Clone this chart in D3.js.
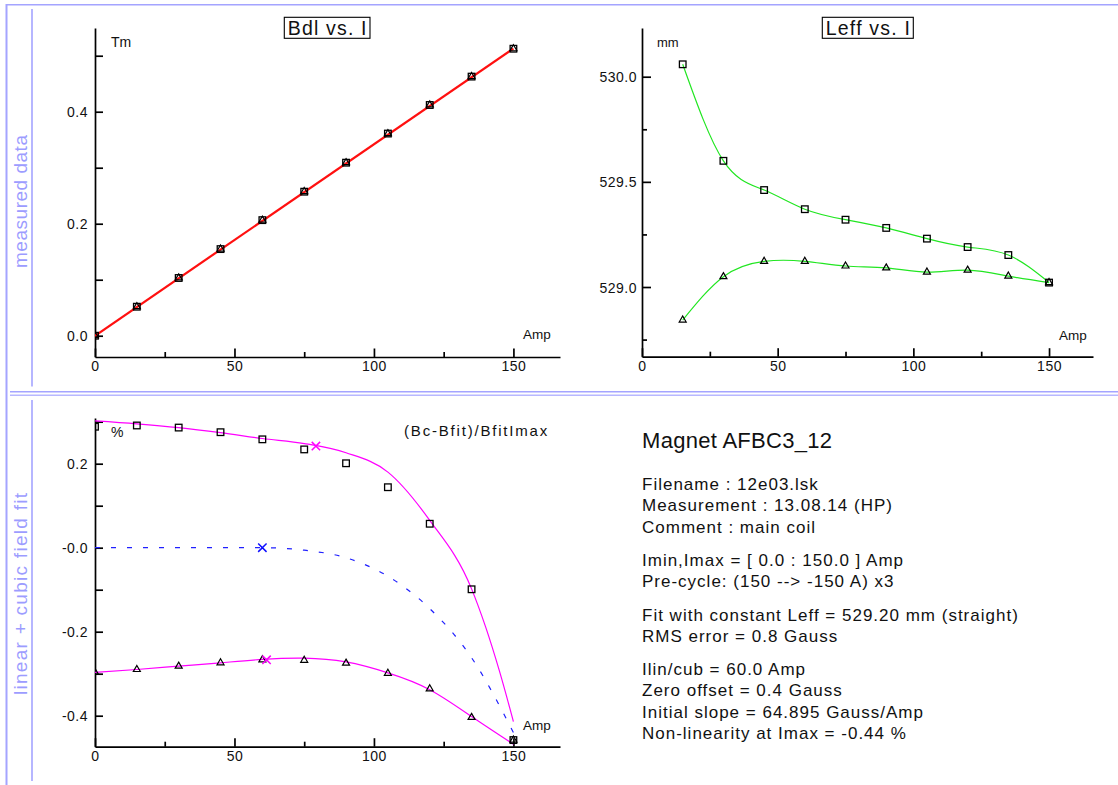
<!DOCTYPE html>
<html><head><meta charset="utf-8">
<script src="https://cdn.jsdelivr.net/npm/d3@7"></script>
<style>
html,body{margin:0;padding:0;background:#fff;}
svg{display:block;font-family:"Liberation Sans",Arial,sans-serif;}
</style></head><body>
<svg id="c" width="1118" height="785"></svg>
<script>
// ---------------- data ----------------
const current = [0,15,30,45,60,75,90,105,120,135,150];
const bdlSquares   = [0.0000,0.0518,0.1031,0.1547,0.2064,0.2572,0.3090,0.3610,0.4120,0.4627,0.5125];
const bdlTriangles = [0.0002,0.0519,0.1033,0.1548,0.2063,0.2574,0.3091,0.3608,0.4121,0.4628,0.5125];
const bdlFitCurrent = [0,150];
const bdlFit = [0.0000,0.5128];

const leffCurrent = [15,30,45,60,75,90,105,120,135,150];
const leffSquares   = [530.059,529.600,529.461,529.370,529.320,529.281,529.230,529.190,529.152,529.021];
const leffTriangles = [528.843,529.049,529.122,529.122,529.100,529.091,529.071,529.080,529.052,529.021];

const devSquares   = [0.288,0.291,0.286,0.275,0.258,0.234,0.201,0.144,0.057,-0.099,-0.458];
const devTriangles = [-0.297,-0.290,-0.282,-0.274,-0.267,-0.268,-0.275,-0.299,-0.336,-0.404,-0.458];
const fitUpperCurrent = [0,15,30,45,60,75,90,105,120,135,140,145,150];
const fitUpper = [0.302,0.295,0.286,0.274,0.260,0.248,0.226,0.180,0.065,-0.098,-0.188,-0.294,-0.414];
const fitLowerCurrent = [0,15,30,45,60,75,90,105,120,135,150];
const fitLower = [-0.297,-0.290,-0.282,-0.274,-0.266,-0.263,-0.272,-0.298,-0.338,-0.402,-0.468];
const fitMeanCurrent = [0,15,30,45,60,75,90,105,120,135,150];
const fitMean = [0,0,0,0,0,-0.006,-0.024,-0.068,-0.145,-0.262,-0.440];
const crossBlueCurrent = [60];
const crossBlueValue = [0];
const crossMagentaCurrent = [79.2,61.5];
const crossMagentaValue = [0.242,-0.267];

const xTicks = [0,50,100,150];
const xMinorTicks = [25,75,125];
const bdlTicks = [0,0.2,0.4];
const bdlMinorTicks = [0.1,0.3,0.5];
const leffTicks = [529.0,529.5,530.0];
const leffMinorTicks = [528.75,529.25,529.75];
const devTicks = [0.2,0,-0.2,-0.4];
const devTickLabels = ["0.2","-0.0","-0.2","-0.4"];
const devMinorTicks = [0.3,0.1,-0.1,-0.3];

const sideLabels = ["measured data","linear + cubic field fit"];
const titleTL = "Bdl vs. I", titleTR = "Leff vs. I", titleB = "(Bc-Bfit)/BfitImax";
const unitTL = "Tm", unitTR = "mm", unitB = "%", xUnit = "Amp";
const infoTitle = "Magnet AFBC3_12";
const infoGroups = [
  ["Filename : 12e03.lsk","Measurement : 13.08.14 (HP)","Comment : main coil"],
  ["Imin,Imax = [ 0.0 : 150.0 ] Amp","Pre-cycle: (150 --> -150 A) x3"],
  ["Fit with constant Leff = 529.20 mm (straight)","RMS error = 0.8 Gauss"],
  ["Ilin/cub = 60.0 Amp","Zero offset = 0.4 Gauss","Initial slope = 64.895 Gauss/Amp","Non-linearity at Imax = -0.44 %"]
];

// ---------------- drawing ----------------
const svg = d3.select('#c');
const frame = '#a4a4ff';

// frame lines
svg.append('line').attr('x1',6.5).attr('x2',6.5).attr('y1',4).attr('y2',785).attr('stroke',frame).attr('stroke-width',2);
svg.append('line').attr('x1',6).attr('x2',1118).attr('y1',4.8).attr('y2',4.8).attr('stroke',frame).attr('stroke-width',1.6);
svg.append('line').attr('x1',32).attr('x2',32).attr('y1',9).attr('y2',386.5).attr('stroke',frame).attr('stroke-width',1.6);
svg.append('line').attr('x1',32).attr('x2',32).attr('y1',400).attr('y2',781).attr('stroke',frame).attr('stroke-width',1.6);
svg.append('line').attr('x1',10).attr('x2',1118).attr('y1',391.8).attr('y2',391.8).attr('stroke',frame).attr('stroke-width',1.5);
svg.append('line').attr('x1',10).attr('x2',1118).attr('y1',395.3).attr('y2',395.3).attr('stroke','#b8b8ff').attr('stroke-width',1.5);

// side labels
[[sideLabels[0],201.5,133],[sideLabels[1],594,202]].forEach(([t,cy,len])=>{
  svg.append('text').attr('transform',`translate(27,${cy}) rotate(-90)`)
    .attr('text-anchor','middle').attr('font-size',19).attr('fill','#9c9cff')
    .attr('textLength',len).attr('lengthAdjust','spacing').text(t);
});

let clipId = 0;
function panel(cfg){
  const {x,y} = cfg;
  const x0 = x.range()[0], y0 = y.range()[0];
  const gm = svg.append('g').attr('transform',`translate(0,${y0})`)
    .call(d3.axisBottom(x).tickValues(xMinorTicks).tickSizeInner(-5).tickSizeOuter(0).tickFormat(''));
  gm.select('.domain').remove();
  const gx = svg.append('g').attr('transform',`translate(0,${y0})`)
    .call(d3.axisBottom(x).tickValues(xTicks).tickSizeInner(-8.5).tickSizeOuter(0).tickPadding(4).tickFormat(d3.format('d')));
  const gym = svg.append('g').attr('transform',`translate(${x0},0)`)
    .call(d3.axisLeft(y).tickValues(cfg.yMinor).tickSizeInner(-cfg.yMinorLen).tickSizeOuter(0).tickFormat(''));
  gym.select('.domain').remove();
  const gy = svg.append('g').attr('transform',`translate(${x0},0)`)
    .call(d3.axisLeft(y).tickValues(cfg.yTicks).tickSizeInner(-cfg.yMajorLen).tickSizeOuter(0).tickPadding(cfg.yPad).tickFormat(cfg.yFormat));
  [gm,gx,gym,gy].forEach(g=>{
    g.selectAll('path,line').attr('stroke','#000').attr('stroke-width',1.7);
    g.selectAll('text').attr('font-size',14).attr('font-family','"Liberation Sans",Arial,sans-serif')
      .attr('letter-spacing',0.5).attr('fill','#111');
  });
  gy.selectAll('text').attr('dy','0.36em');
  const id = 'clip'+(clipId++);
  svg.append('clipPath').attr('id',id).append('rect')
    .attr('x',x0).attr('y',y.range()[1]).attr('width',x.range()[1]-x0).attr('height',y0-y.range()[1]);
  return svg.append('g').attr('clip-path',`url(#${id})`);
}

function squares(g,x,y,xs,vs){
  g.selectAll(null).data(xs).enter().append('rect')
    .attr('x',(d,i)=>x(d)-3.3).attr('y',(d,i)=>y(vs[i])-3.3).attr('width',6.6).attr('height',6.6)
    .attr('fill','none').attr('stroke','#000').attr('stroke-width',1.3);
}
function triangles(g,x,y,xs,vs){
  const s=7, h=s*Math.sqrt(3)/2;
  g.selectAll(null).data(xs).enter().append('path')
    .attr('d',(d,i)=>{const cx=x(d), cy=y(vs[i]);
      return `M${cx},${cy-h*2/3}L${cx+s/2},${cy+h/3}L${cx-s/2},${cy+h/3}Z`;})
    .attr('fill','none').attr('stroke','#000').attr('stroke-width',1.2);
}
function crosses(g,x,y,xs,vs,color){
  const r=4.2;
  g.selectAll(null).data(xs).enter().append('path')
    .attr('d',(d,i)=>{const cx=x(d), cy=y(vs[i]);
      return `M${cx-r},${cy-r}L${cx+r},${cy+r}M${cx-r},${cy+r}L${cx+r},${cy-r}`;})
    .attr('stroke',color).attr('stroke-width',1.5).attr('fill','none');
}
function curve(g,x,y,xs,vs,color,w,curveType,dash){
  const line = d3.line().x(d=>x(d[0])).y(d=>y(d[1])).curve(curveType);
  const p = g.append('path').attr('d',line(xs.map((d,i)=>[d,vs[i]])))
    .attr('fill','none').attr('stroke',color).attr('stroke-width',w);
  if(dash) p.attr('stroke-dasharray',dash);
}
function label(t,xp,yp,size,anchor,ls){
  return svg.append('text').attr('x',xp).attr('y',yp).attr('font-size',size)
    .attr('text-anchor',anchor||'start').attr('letter-spacing',ls||0).attr('fill','#111').text(t);
}
function titleBox(t,x1,x2,y1,y2){
  svg.append('rect').attr('x',x1).attr('y',y1).attr('width',x2-x1).attr('height',y2-y1)
    .attr('fill','none').attr('stroke','#000').attr('stroke-width',1.1);
  svg.append('text').attr('x',(x1+x2)/2).attr('y',y2-3.6).attr('font-size',19.5)
    .attr('text-anchor','middle').attr('textLength',x2-x1-7).attr('lengthAdjust','spacing').attr('fill','#111').text(t);
}

// ---- top-left: Bdl vs I ----
const xTL = d3.scaleLinear().domain([0,166.7]).range([95,560]);
const yTL = d3.scaleLinear().domain([-0.0380,0.5495]).range([357,28]);
const gTL = panel({x:xTL,y:yTL,yTicks:bdlTicks,yMinor:bdlMinorTicks,yFormat:d3.format('.1f'),yMajorLen:8,yMinorLen:8,yPad:7});
curve(gTL,xTL,yTL,bdlFitCurrent,bdlFit,'#ff1010',2.2,d3.curveLinear);
squares(gTL,xTL,yTL,current,bdlSquares);
triangles(gTL,xTL,yTL,current,bdlTriangles);
titleBox(titleTL,284.3,370,17.3,38.3);
label(unitTL,111,47,14);
label(xUnit,523,339,13.5);

// ---- top-right: Leff vs I ----
const xTR = d3.scaleLinear().domain([0,166.2]).range([642,1093]);
const yTR = d3.scaleLinear().domain([528.6686,530.2316]).range([356.7,28]);
const gTR = panel({x:xTR,y:yTR,yTicks:leffTicks,yMinor:leffMinorTicks,yFormat:d3.format('.1f'),yMajorLen:9,yMinorLen:5,yPad:5});
curve(gTR,xTR,yTR,leffCurrent,leffSquares,'#22e622',1.2,d3.curveNatural);
curve(gTR,xTR,yTR,leffCurrent,leffTriangles,'#22e622',1.2,d3.curveNatural);
squares(gTR,xTR,yTR,leffCurrent,leffSquares);
triangles(gTR,xTR,yTR,leffCurrent,leffTriangles);
titleBox(titleTR,822.3,913.3,17.3,38.3);
label(unitTR,657,47,13);
label(xUnit,1059,339.5,13.5);

// ---- bottom-left: deviation ----
const xB = d3.scaleLinear().domain([0,166.7]).range([95,560]);
const yB = d3.scaleLinear().domain([-0.4738,0.3088]).range([746.7,418]);
const gB = panel({x:xB,y:yB,yTicks:devTicks,yMinor:devMinorTicks,yFormat:(d)=>devTickLabels[devTicks.indexOf(d)],yMajorLen:8,yMinorLen:8,yPad:7});
curve(gB,xB,yB,fitMeanCurrent,fitMean,'#2020ff',1.2,d3.curveMonotoneX,'5,11');
curve(gB,xB,yB,fitUpperCurrent,fitUpper,'#ff00ff',1.2,d3.curveMonotoneX);
curve(gB,xB,yB,fitLowerCurrent,fitLower,'#ff00ff',1.2,d3.curveNatural);
squares(gB,xB,yB,current,devSquares);
triangles(gB,xB,yB,current,devTriangles);
crosses(gB,xB,yB,crossBlueCurrent,crossBlueValue,'#1010ff');
crosses(gB,xB,yB,crossMagentaCurrent,crossMagentaValue,'#ff00ff');
label(titleB,549,436,15,'end',1.8);
label(unitB,111,437,14);
label(xUnit,523,730,13.5);

// ---- info block ----
label(infoTitle,642,448,22,'start',0.3);
let yy = 490;
infoGroups.forEach((grp,gi)=>{
  grp.forEach((t,li)=>{ label(t,642,yy,17,'start',1.0); yy += 21.3; });
  yy += 12;
});
</script>
</body></html>
